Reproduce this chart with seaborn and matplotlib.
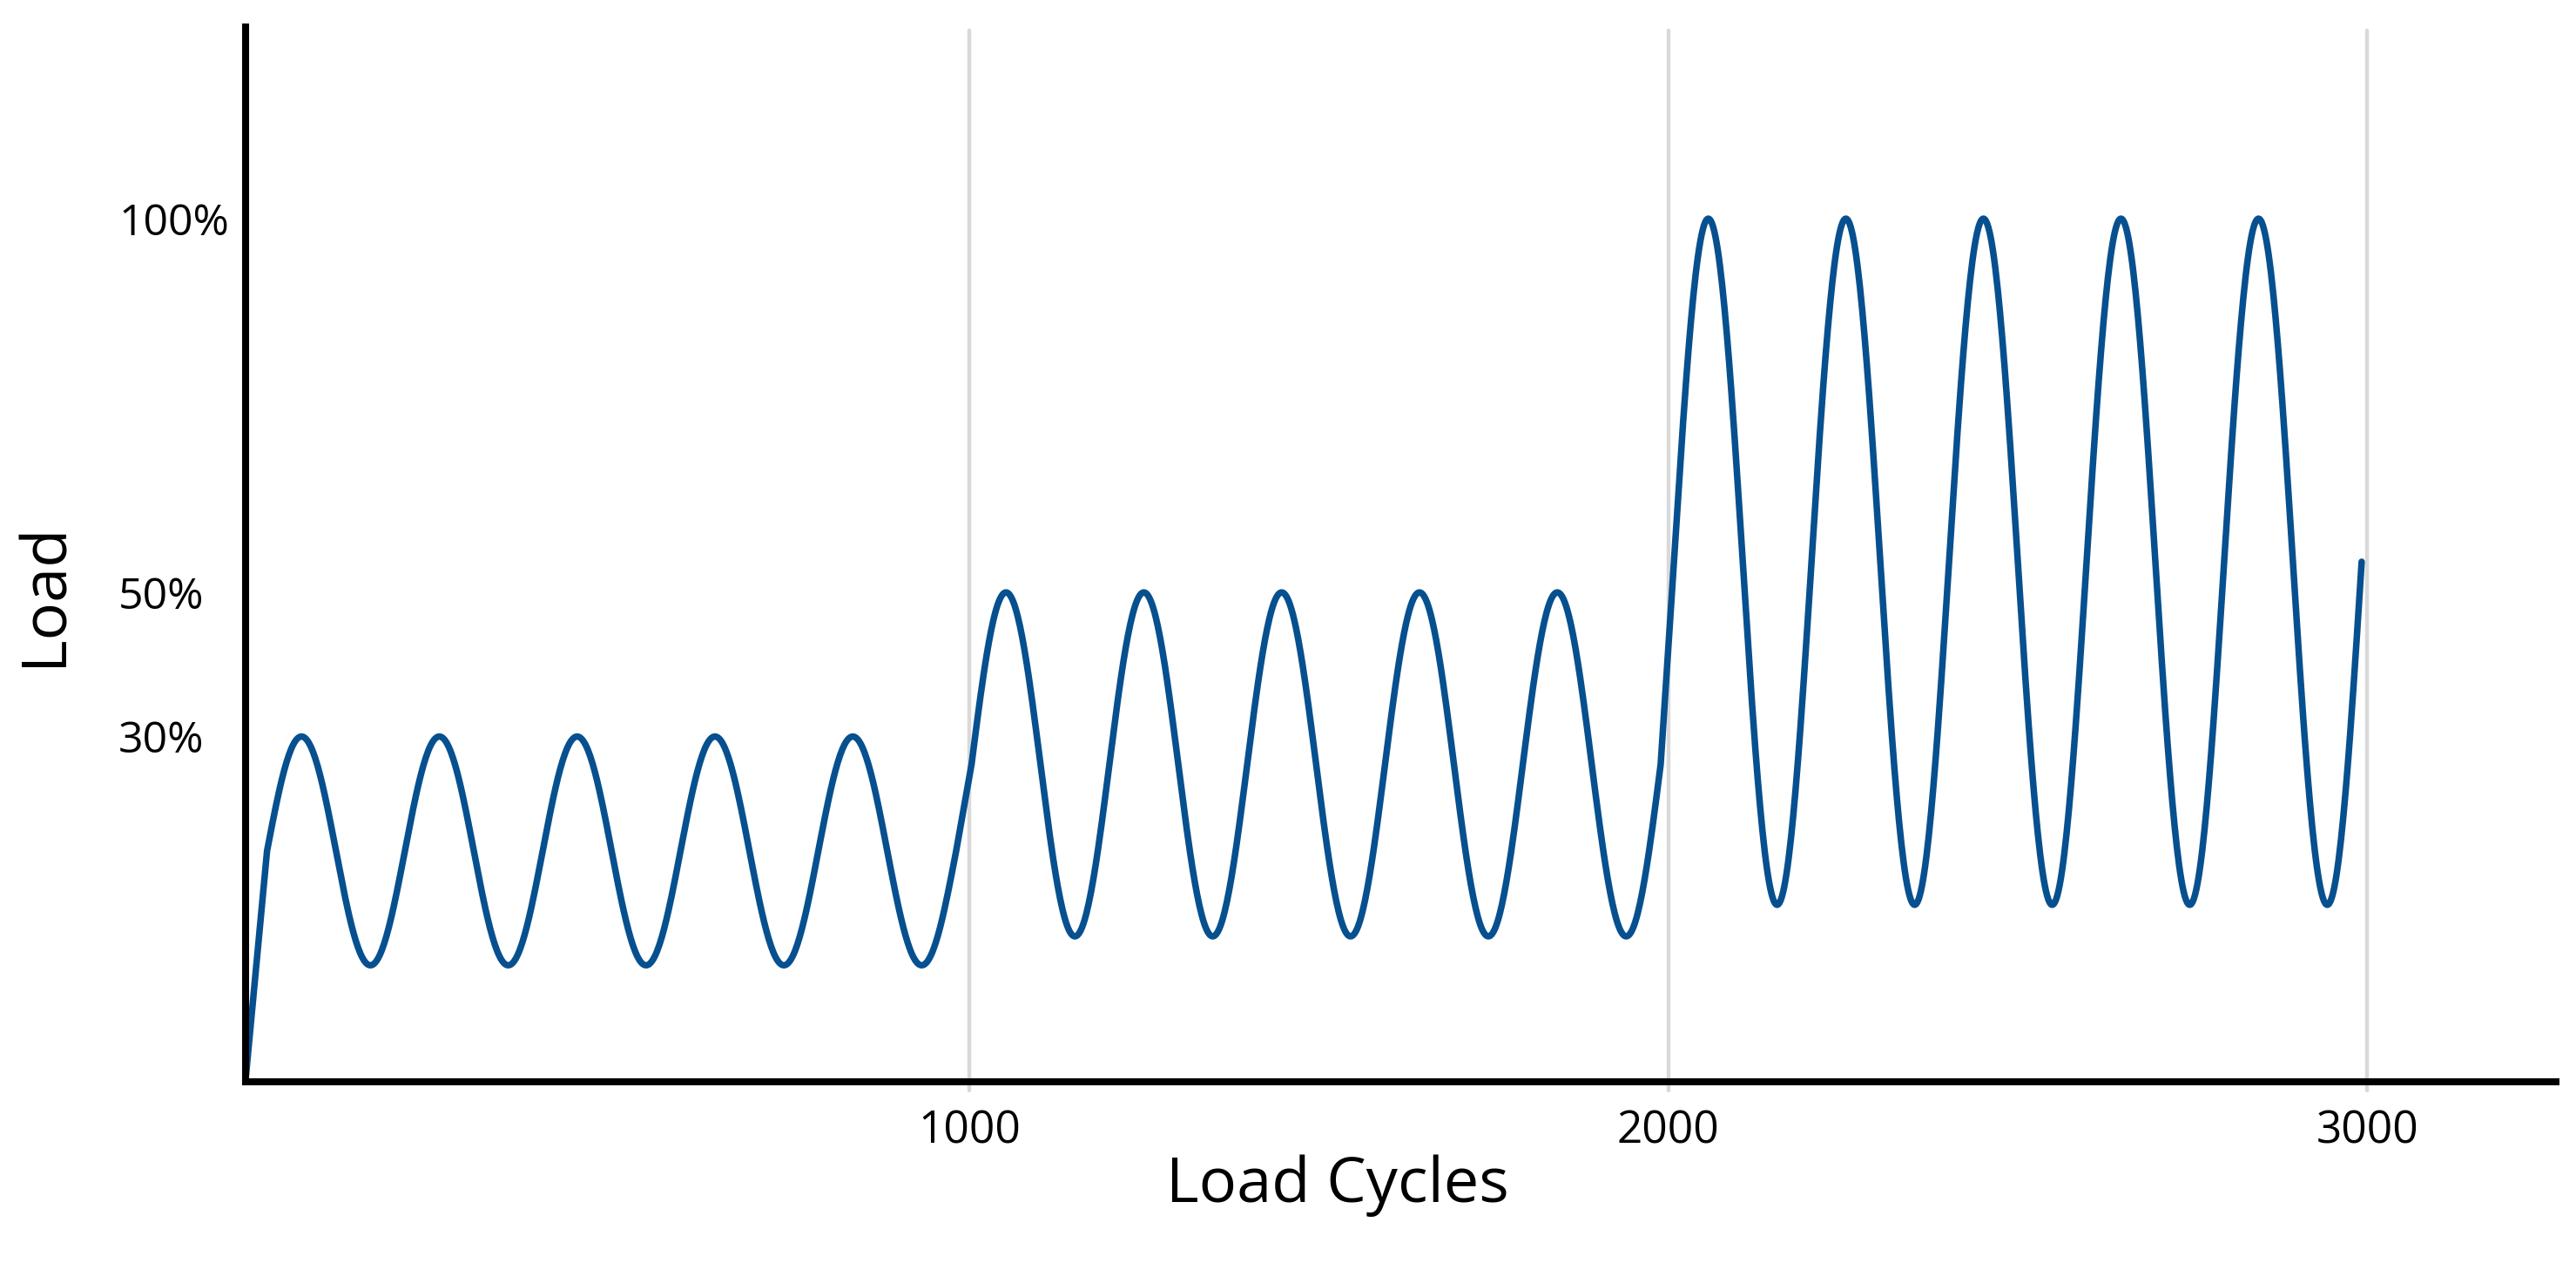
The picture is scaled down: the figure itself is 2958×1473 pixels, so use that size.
import numpy as np
import pandas as pd
import matplotlib
matplotlib.use("Agg")
import matplotlib.pyplot as plt
import seaborn as sns

# ---- data ----
block_start = [-5, 1003, 2008]        # load cycles where each load block begins
block_end = [981, 1989, 2992]         # load cycles where each load block ends
block_peak = [40.0, 56.7, 100.0]      # peak load of each block (display units)
block_trough = [13.5, 16.85, 20.5]    # trough load of each block (display units)
waves_per_block = [5, 5, 5]
ramp_start = [-36, 0.0]               # ramp-up from zero load
ytick_pos = [40.0, 56.7, 100.0]
ytick_labels = ["30%", "50%", "100%"]
xtick_pos = [1000, 2000, 3000]
xtick_labels = ["1000", "2000", "3000"]

# ---- build the load signal ----
xs = [ramp_start[0]]
ys = [ramp_start[1]]
for s, e, p, t, n in zip(block_start, block_end, block_peak, block_trough, waves_per_block):
    x = np.linspace(s, e, 600)
    mid = (p + t) / 2
    amp = (p - t) / 2
    xs.extend(x)
    ys.extend(mid + amp * np.sin(2 * np.pi * n * (x - s) / (e - s)))
df = pd.DataFrame({"cycles": xs, "load": ys})

sns.set_theme(style="white")
plt.rcParams["font.family"] = ["Open Sans", "DejaVu Sans"]
plt.rcParams["text.color"] = "black"
plt.rcParams["axes.labelcolor"] = "black"
plt.rcParams["xtick.color"] = "black"
plt.rcParams["ytick.color"] = "black"

fig = plt.figure(figsize=(14.79, 7.365), dpi=200)
ax = fig.add_axes([0.09523, 0.15682, 0.89699, 0.82213])

for xt in xtick_pos:
    ax.axvline(xt, ymin=-0.008, ymax=0.997, color="#d9d9d9", lw=1.6, zorder=1, clip_on=False)

sns.lineplot(data=df, x="cycles", y="load", sort=False, estimator=None,
             color="#07508f", lw=2.7, ax=ax, zorder=3)

ax.set_xlim(-36.1, 3270)
ax.set_ylim(0, 122.2)

for side in ["top", "right"]:
    ax.spines[side].set_visible(False)
for side in ["left", "bottom"]:
    ax.spines[side].set_color("black")
    ax.spines[side].set_linewidth(2.9)
    ax.spines[side].set_zorder(4)

ax.set_xticks(xtick_pos)
ax.set_xticklabels(xtick_labels, fontsize=18.5, color="black")
ax.set_yticks(ytick_pos)
ax.set_yticklabels(ytick_labels, fontsize=18, color="black")
for lab in ax.get_yticklabels():
    lab.set_horizontalalignment("left")
ax.tick_params(axis="y", length=0, pad=52.4)
ax.tick_params(axis="x", length=0, pad=11.5)

ax.set_xlabel("Load Cycles", fontsize=26, color="black")
ax.set_ylabel("Load", fontsize=26, color="black")
ax.xaxis.label.set_va("center")
ax.yaxis.label.set_va("center")
ax.xaxis.set_label_coords(0.4727, -0.0985)
ax.yaxis.set_label_coords(-0.0866, 0.4624)
ax.grid(False)

fig.savefig("out.png", dpi=200, facecolor="white")
